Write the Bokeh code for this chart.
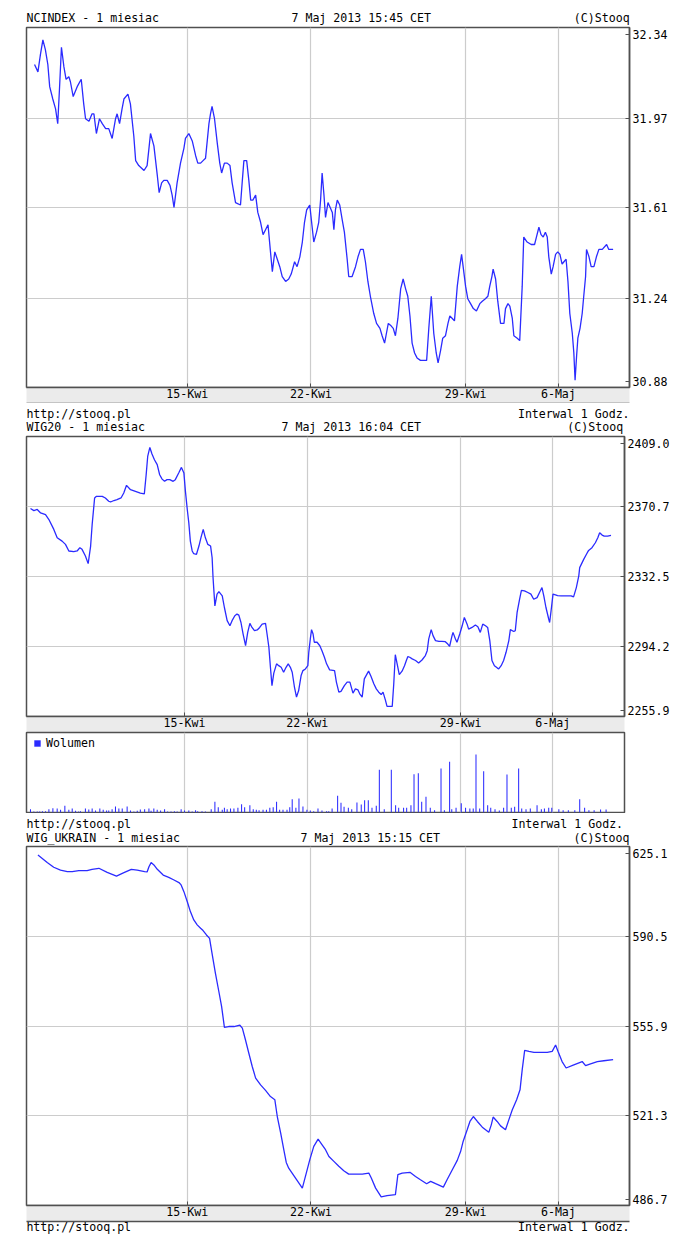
from bokeh.plotting import figure
from bokeh.layouts import column
from bokeh.models import (Range1d, LinearAxis, FixedTicker, Grid, Legend, LegendItem)
from bokeh.embed import file_html
from bokeh.resources import INLINE

# ---------------- data ----------------
# x = hourly bar number within the one-month window
date_ticks = [52, 92, 142, 172]
date_labels = ["15-Kwi", "22-Kwi", "29-Kwi", "6-Maj"]

nc_ticks = [30.88, 31.24, 31.61, 31.97, 32.34]
nc_tick_labels = ["30.88", "31.24", "31.61", "31.97", "32.34"]
wig_ticks = [2255.9, 2294.2, 2332.5, 2370.7, 2409.0]
wig_tick_labels = ["2255.9", "2294.2", "2332.5", "2370.7", "2409.0"]
ukr_ticks = [486.7, 521.3, 555.9, 590.5, 625.1]
ukr_tick_labels = ["486.7", "521.3", "555.9", "590.5", "625.1"]

nc_x = [2.6, 3.7, 4.5, 5.3, 6.1, 6.9, 7.5, 8.5, 9.4, 10.1,
        10.7, 11.3, 12.1, 12.8, 13.7, 14.2, 15.1, 16.4, 17.7, 18.5,
        19.1, 20.2, 21.2, 21.8, 22.6, 23.6, 24.5, 25.6, 26.6, 27.7,
        28.8, 29.3, 30.1, 30.9, 31.5, 32.8, 33.6, 34.7, 35.3, 36.3,
        38.0, 39.0, 39.6, 40.1, 41.2, 42.3, 42.9, 43.7, 44.4, 45.5,
        46.4, 47.1, 47.7, 48.7, 49.8, 50.9, 51.4, 52.5, 53.6, 54.7,
        55.4, 56.3, 57.1, 57.9, 59.0, 59.5, 60.0, 60.8, 61.7, 62.5,
        63.1, 64.0, 64.9, 65.8, 66.5, 67.6, 69.2, 69.8, 70.3, 71.2,
        71.9, 72.5, 73.2, 74.1, 74.8, 75.7, 76.5, 77.3, 78.1, 78.9,
        79.5, 80.3, 81.1, 81.9, 82.7, 83.8, 84.8, 85.6, 86.7, 87.5,
        88.4, 89.2, 89.9, 90.6, 91.6, 92.9, 93.8, 94.5, 95.1, 95.6,
        96.2, 96.7, 97.5, 98.9, 99.4, 99.9, 100.5, 101.3, 102.1, 102.8,
        103.7, 104.2, 105.3, 106.4, 107.2, 108.0, 108.9, 109.6, 110.4, 111.2,
        112.3, 113.2, 114.3, 115.0, 115.8, 116.4, 117.0, 117.9, 118.6, 119.3,
        120.1, 121.0, 121.8, 122.6, 123.3, 124.0, 124.7, 125.5, 126.3, 127.4,
        129.4, 130.1, 130.9, 131.7, 132.5, 133.1, 133.9, 134.6, 135.5, 136.3,
        136.9, 137.7, 138.4, 139.3, 140.1, 140.7, 141.2, 142.0, 142.7, 143.6,
        144.5, 145.5, 146.6, 147.4, 148.4, 149.2, 149.8, 150.5, 150.9, 151.7,
        152.4, 153.3, 154.4, 154.9, 155.7, 156.3, 157.1, 157.6, 158.7, 159.5,
        160.3, 160.8, 161.9, 163.2, 164.3, 164.9, 165.7, 166.4, 167.1, 167.8,
        168.4, 168.9, 169.7, 170.3, 171.1, 171.8, 172.5, 173.2, 173.8, 174.5,
        175.1, 175.7, 176.5, 177.0, 177.4, 177.9, 178.3, 179.0, 179.7, 180.2,
        180.8, 181.1, 181.9, 182.6, 183.5, 184.3, 185.1, 186.2, 187.6, 188.3,
        189.1, 189.7]
nc_v = [32.19, 32.16, 32.23, 32.29, 32.25, 32.19, 32.10, 32.05, 32.01, 31.95,
        32.10, 32.26, 32.18, 32.13, 32.14, 32.12, 32.06, 32.10, 32.13, 32.03,
        31.97, 31.96, 31.99, 31.99, 31.91, 31.97, 31.95, 31.93, 31.93, 31.89,
        31.97, 31.99, 31.95, 32.01, 32.05, 32.07, 32.03, 31.90, 31.80, 31.78,
        31.76, 31.78, 31.85, 31.91, 31.86, 31.74, 31.67, 31.71, 31.72, 31.72,
        31.70, 31.66, 31.61, 31.71, 31.79, 31.85, 31.89, 31.91, 31.88, 31.82,
        31.79, 31.79, 31.80, 31.81, 31.95, 31.99, 32.02, 31.97, 31.87, 31.79,
        31.75, 31.79, 31.79, 31.78, 31.71, 31.63, 31.62, 31.72, 31.80, 31.80,
        31.72, 31.64, 31.64, 31.66, 31.59, 31.55, 31.50, 31.52, 31.54, 31.43,
        31.35, 31.43, 31.40, 31.37, 31.33, 31.31, 31.32, 31.34, 31.39, 31.37,
        31.41, 31.47, 31.55, 31.60, 31.62, 31.47, 31.51, 31.55, 31.64, 31.75,
        31.66, 31.57, 31.63, 31.59, 31.52, 31.60, 31.64, 31.62, 31.56, 31.51,
        31.40, 31.33, 31.33, 31.37, 31.41, 31.44, 31.44, 31.39, 31.31, 31.25,
        31.18, 31.14, 31.12, 31.09, 31.06, 31.10, 31.14, 31.13, 31.12, 31.09,
        31.16, 31.28, 31.32, 31.28, 31.25, 31.17, 31.06, 31.02, 31.00, 30.99,
        30.99, 31.12, 31.25, 31.10, 31.02, 30.98, 31.03, 31.08, 31.09, 31.14,
        31.17, 31.16, 31.15, 31.29, 31.37, 31.42, 31.37, 31.29, 31.24, 31.22,
        31.20, 31.19, 31.22, 31.23, 31.24, 31.25, 31.29, 31.33, 31.36, 31.32,
        31.23, 31.14, 31.14, 31.20, 31.22, 31.21, 31.16, 31.09, 31.08, 31.07,
        31.29, 31.49, 31.47, 31.46, 31.46, 31.49, 31.53, 31.50, 31.49, 31.51,
        31.49, 31.41, 31.34, 31.37, 31.42, 31.43, 31.42, 31.38, 31.39, 31.40,
        31.31, 31.18, 31.10, 31.02, 30.91, 31.01, 31.08, 31.12, 31.18, 31.25,
        31.33, 31.44, 31.41, 31.37, 31.37, 31.41, 31.44, 31.44, 31.46, 31.44,
        31.44, 31.44]

wig_x = [1.8, 2.9, 4.0, 5.1, 6.7, 7.8, 9.4, 10.5, 12.1, 13.2,
         14.3, 15.9, 17.0, 17.9, 18.6, 19.7, 20.6, 21.4, 21.9, 22.7,
         23.3, 25.2, 26.2, 27.3, 27.9, 29.0, 30.0, 31.3, 32.2, 33.1,
         34.4, 36.0, 37.6, 38.9, 39.5, 40.0, 40.7, 41.4, 42.2, 43.1,
         43.9, 44.7, 45.5, 46.3, 47.2, 48.3, 49.0, 50.1, 51.0, 51.8,
         52.3, 52.9, 53.4, 53.9, 54.5, 55.0, 55.9, 56.7, 57.4, 58.1,
         58.8, 59.6, 60.5, 61.0, 61.3, 61.9, 62.6, 63.2, 64.3, 65.0,
         65.9, 66.8, 67.5, 68.4, 69.1, 69.7, 70.4, 71.1, 71.9, 72.6,
         73.3, 74.0, 74.8, 75.7, 76.5, 77.3, 78.4, 78.9, 79.5, 80.0,
         80.5, 81.1, 82.0, 82.7, 83.5, 84.3, 85.1, 85.8, 86.5, 87.1,
         87.8, 88.5, 89.2, 90.0, 90.6, 91.4, 92.2, 92.5, 93.0, 93.4,
         93.9, 94.3, 95.2, 96.1, 96.8, 97.6, 98.3, 99.3, 100.9, 101.5,
         102.3, 103.0, 104.1, 105.0, 105.9, 106.9, 107.7, 108.5, 109.1, 109.9,
         110.6, 111.5, 112.0, 112.8, 113.7, 114.5, 115.3, 116.1, 116.7, 117.5,
         118.0, 119.1, 119.7, 120.2, 120.7, 121.3, 122.0, 122.9, 123.7, 124.3,
         124.8, 125.4, 126.2, 127.3, 128.3, 129.4, 130.5, 131.1, 131.6, 132.4,
         133.0, 133.8, 134.9, 135.9, 137.0, 137.8, 138.4, 139.2, 139.5, 140.3,
         140.8, 141.7, 142.5, 143.2, 144.1, 144.6, 145.7, 146.8, 147.6, 148.4,
         149.2, 150.1, 150.8, 151.5, 152.2, 153.0, 153.9, 154.4, 155.2, 156.0,
         156.8, 157.7, 158.2, 159.3, 159.8, 160.4, 161.2, 161.8, 162.8, 163.9,
         164.9, 165.8, 166.9, 167.7, 168.5, 169.1, 169.8, 170.7, 171.0, 171.6,
         172.1, 172.9, 173.6, 174.7, 176.1, 178.0, 178.8, 179.7, 180.5, 180.8,
         182.1, 183.0, 183.7, 184.8, 185.9, 186.7, 187.3, 188.1, 188.8, 189.9,
         191.0]
wig_v = [2369.6, 2368.5, 2369.1, 2367.2, 2366.3, 2363.6, 2358.2, 2353.6, 2351.8, 2350.0,
         2346.4, 2346.0, 2346.4, 2348.2, 2347.3, 2343.7, 2339.5, 2349.1, 2360.9, 2375.4,
         2376.3, 2376.3, 2375.4, 2373.6, 2373.2, 2374.0, 2374.5, 2375.4, 2378.1, 2382.3,
         2379.9, 2379.0, 2378.1, 2377.6, 2388.1, 2398.1, 2403.0, 2399.4, 2396.3, 2393.6,
         2388.1, 2385.7, 2384.5, 2385.4, 2385.4, 2384.5, 2385.4, 2389.0, 2392.1, 2389.0,
         2379.0, 2369.1, 2361.8, 2351.8, 2346.4, 2344.9, 2344.6, 2349.1, 2354.0, 2358.2,
         2353.6, 2350.0, 2349.1, 2342.7, 2331.8, 2316.4, 2322.8, 2324.2, 2321.9, 2315.5,
         2308.3, 2305.5, 2308.3, 2311.0, 2311.9, 2311.3, 2307.3, 2301.0, 2294.6, 2301.9,
         2306.8, 2304.6, 2302.8, 2303.2, 2304.6, 2306.4, 2306.8, 2301.0, 2293.7, 2282.8,
         2272.8, 2279.6, 2284.7, 2283.7, 2282.8, 2280.1, 2282.8, 2284.7, 2282.8, 2280.1,
         2272.3, 2266.5, 2270.1, 2278.3, 2281.0, 2281.9, 2283.7, 2291.0, 2298.3, 2303.4,
         2301.0, 2296.5, 2296.5, 2294.6, 2291.9, 2288.3, 2284.7, 2281.4, 2281.0, 2274.7,
         2269.2, 2269.6, 2272.8, 2274.7, 2274.7, 2268.7, 2271.0, 2270.5, 2268.3, 2266.5,
         2276.5, 2279.2, 2280.7, 2277.8, 2273.8, 2271.0, 2269.2, 2267.9, 2269.2, 2264.7,
         2261.4, 2261.4, 2261.4, 2273.8, 2289.7, 2284.7, 2278.8, 2280.7, 2283.7, 2286.5,
         2288.7, 2288.3, 2287.4, 2286.5, 2285.2, 2286.8, 2289.2, 2291.9, 2298.3, 2303.4,
         2300.1, 2297.4, 2297.0, 2297.0, 2296.8, 2295.5, 2294.3, 2300.1, 2301.9, 2298.3,
         2296.5, 2301.0, 2305.5, 2310.1, 2306.4, 2303.7, 2304.6, 2305.9, 2305.0, 2301.9,
         2306.4, 2305.5, 2304.6, 2297.4, 2286.5, 2283.7, 2282.5, 2281.9, 2283.7, 2286.5,
         2291.0, 2297.4, 2303.4, 2302.4, 2302.8, 2312.8, 2320.0, 2324.9, 2324.6, 2323.7,
         2322.8, 2320.0, 2320.9, 2323.7, 2326.4, 2321.9, 2315.5, 2309.2, 2307.3, 2315.5,
         2322.8, 2322.4, 2322.0, 2321.9, 2321.9, 2321.9, 2321.3, 2326.4, 2332.8, 2337.3,
         2341.8, 2344.6, 2346.7, 2348.2, 2350.9, 2353.6, 2356.4, 2355.1, 2354.5, 2354.5,
         2354.9]

vol_x = [1.8, 2.9, 4.0, 4.8, 5.7, 6.7, 7.8, 9.1, 10.5, 11.6,
         13.0, 14.3, 15.4, 16.5, 17.5, 18.1, 19.7, 20.8, 21.9, 23.0,
         24.4, 25.5, 26.6, 27.3, 28.4, 29.5, 30.6, 31.7, 33.3, 34.4,
         35.5, 36.6, 37.6, 39.0, 40.4, 41.1, 42.0, 43.1, 44.2, 45.5,
         46.5, 47.6, 48.7, 49.6, 50.9, 52.0, 53.4, 54.5, 55.6, 56.3,
         57.7, 58.8, 60.7, 61.9, 63.0, 64.3, 65.0, 65.9, 67.0, 68.1,
         69.4, 70.6, 71.6, 73.3, 74.4, 75.4, 76.3, 77.6, 78.7, 79.8,
         80.9, 82.0, 83.0, 84.1, 85.4, 86.3, 87.1, 88.3, 89.3, 90.6,
         91.9, 93.0, 94.1, 95.5, 96.8, 98.3, 99.0,
         100.1, 101.9, 103.0, 104.0, 105.4, 106.5, 108.2, 109.6, 110.7, 111.9,
         113.1, 114.5, 115.5, 117.1, 119.4, 120.8, 121.8, 123.4, 124.4, 125.8,
         126.8, 128.2, 129.3, 130.7, 132.1, 133.5, 135.6, 136.7, 138.4, 139.1,
         140.5, 142.2, 143.6, 145.0, 146.1, 147.0, 148.2, 149.5, 150.8, 151.8,
         153.2, 154.6, 156.0, 157.1, 158.5, 159.6, 160.9, 161.9, 163.3, 164.7,
         166.9, 168.3, 169.3, 170.7, 171.7, 174.0, 175.4, 177.1, 179.2, 180.8,
         182.4, 183.8, 185.5, 187.6, 189.4]
vol_v = [33, 10, 10, 10, 13, 13, 33, 43, 40, 27,
         67, 27, 40, 17, 10, 13, 40, 30, 40, 20,
         40, 27, 20, 20, 33, 60, 40, 40, 60, 20,
         10, 17, 30, 33, 40, 17, 40, 27, 20, 33,
         10, 10, 13, 10, 33, 20, 20, 10, 23, 13,
         13, 10, 33, 107, 53, 27, 47, 33, 40, 40,
         47, 83, 53, 73, 33, 27, 23, 27, 27, 47,
         53, 107, 27, 27, 27, 53, 133, 47, 140, 60,
         27, 20, 13, 40, 20, 13, 13,
         40, 167, 97, 57, 47, 33, 100, 80, 123, 123,
         47, 67, 427, 33, 427, 73, 47, 47, 47, 73,
         383, 393, 107, 157, 47, 23, 440, 23, 507, 33,
         47, 93, 47, 40, 40, 580, 40, 413, 73, 47,
         33, 20, 47, 380, 47, 57, 440, 40, 33, 40,
         73, 33, 40, 47, 47, 33, 23, 23, 23, 133,
         47, 23, 23, 30, 30]

ukr_x = [3.7, 5.1, 6.7, 8.8, 11.0, 13.2, 14.8, 16.9, 19.6, 21.2,
         23.4, 26.1, 29.1, 31.5, 33.9, 35.8, 38.2, 39.0, 39.6, 40.3,
         41.2, 42.3, 44.2, 46.0, 47.7, 49.3, 50.0, 50.9, 52.0, 53.0,
         54.1, 55.2, 56.3, 57.1, 58.2, 59.2, 60.0, 61.1, 62.2, 63.1,
         64.0, 65.4, 67.1, 69.0, 69.8, 70.8, 71.9, 73.0, 74.1, 75.7,
         77.3, 78.9, 80.3, 81.1, 82.2, 83.2, 84.0, 84.8, 85.9, 87.5,
         89.2, 90.2, 91.6, 92.9, 94.3, 95.6, 96.7, 97.8, 99.4, 101.0,
         102.6, 104.2, 106.4, 108.6, 110.7, 111.5, 112.9, 114.7, 116.6, 119.3,
         120.1, 121.5, 124.0, 125.8, 127.4, 129.4, 130.7, 132.3, 134.8, 136.0,
         137.7, 139.3, 140.4, 141.2, 142.5, 143.4, 144.5, 145.8, 147.4, 149.5,
         150.3, 150.9, 152.2, 153.3, 154.9, 156.0, 157.1, 158.5, 159.6, 160.3,
         161.1, 162.5, 164.1, 166.2, 168.4, 170.0, 171.1, 171.9, 173.2, 174.5,
         177.0, 179.7, 180.8, 182.4, 184.6, 186.7, 189.7]
ukr_v = [621.8, 620.5, 618.9, 617.1, 616.0, 615.4, 615.4, 615.8, 615.8, 616.3,
         616.7, 615.1, 613.7, 615.0, 616.3, 616.0, 615.4, 615.3, 617.3, 618.9,
         618.0, 616.3, 614.1, 613.2, 612.2, 611.2, 610.3, 607.7, 603.8, 600.0,
         596.8, 594.9, 593.6, 592.7, 591.0, 589.7, 583.9, 576.2, 569.2, 563.4,
         555.4, 555.7, 555.7, 556.2, 555.1, 550.6, 545.4, 540.3, 535.8, 533.2,
         531.1, 528.7, 527.5, 521.0, 514.6, 508.2, 503.3, 501.1, 499.2, 496.4,
         493.4, 497.9, 504.3, 509.5, 512.3, 510.1, 508.2, 505.6, 503.7, 501.8,
         500.1, 498.8, 498.8, 498.8, 499.2, 497.3, 493.4, 490.0, 490.5, 490.9,
         498.6, 499.2, 499.5, 497.9, 496.6, 495.1, 496.0, 495.1, 493.8, 496.6,
         500.5, 504.1, 507.6, 511.4, 515.9, 519.1, 521.0, 519.1, 516.9, 514.9,
         517.8, 520.8, 519.1, 517.4, 515.9, 519.8, 523.6, 527.5, 531.3, 539.0,
         546.5, 546.1, 545.7, 545.7, 545.7, 546.1, 548.6, 546.1, 542.2, 539.7,
         540.9, 542.2, 540.6, 541.3, 542.2, 542.5, 542.9]

# ---------------- style ----------------
FONT = "DejaVu Sans Mono"
FPX = 11.6
FS = "%.1fpx" % FPX
CW = 0.6021 * FPX          # monospace advance width
INK = "#000000"
FRAME = "#505050"
GRID = "#cccccc"
BLUE = "#2b2bff"
BAND = "#ebebeb"
LEFT = 26
END_INSET = 6.5            # end tick labels are kept inside the frame (px)


def pairs(xs, ys):
    n = min(len(xs), len(ys))
    return list(xs[:n]), list(ys[:n])


def base_fig(top, bottom, frame_w, frame_h, xr, yr, right=0):
    p = figure(frame_width=frame_w, frame_height=frame_h, x_range=xr, y_range=yr,
               x_axis_type=None, y_axis_type=None,
               toolbar_location=None, output_backend="svg")
    p.min_border_left = LEFT
    p.min_border_right = right
    p.min_border_top = top
    p.min_border_bottom = bottom
    p.outline_line_color = FRAME
    p.outline_line_width = 1.5
    p.background_fill_color = "white"
    p.border_fill_color = "white"
    p.extra_x_ranges = {"px": Range1d(0, frame_w)}
    p.add_layout(Grid(dimension=0, ticker=FixedTicker(ticks=date_ticks),
                      grid_line_color=GRID, grid_line_width=1.2))
    return p


def text_row(p, side, items, standoff):
    """items: list of (text, anchor_px, 'left'|'right') relative to frame left."""
    ticks, over = [], {}
    for s, px, how in items:
        half = len(s) * CW / 2.0
        c = round((px + half if how == "left" else px - half) * 4) / 4.0
        ticks.append(c)
        over[c] = s
    ax = LinearAxis(x_range_name="px", ticker=FixedTicker(ticks=ticks),
                    major_label_overrides=over, axis_line_color=None,
                    major_tick_line_color=None, minor_tick_line_color=None,
                    major_tick_in=0, major_tick_out=0, minor_tick_in=0, minor_tick_out=0,
                    major_label_standoff=standoff, major_label_text_font=FONT,
                    major_label_text_font_size=FS, major_label_text_color=INK)
    p.add_layout(ax, side)


def price_axes(p, yticks, ylabels, frame_h, band_standoff):
    lo, hi = yticks[0], yticks[-1]
    p.add_layout(Grid(dimension=1, ticker=FixedTicker(ticks=yticks),
                      grid_line_color=GRID, grid_line_width=1.2))
    inset = (hi - lo) * END_INSET / frame_h
    pos = [lo + inset] + list(yticks[1:-1]) + [hi - inset]
    ry = LinearAxis(ticker=FixedTicker(ticks=pos),
                    major_label_overrides=dict(zip(pos, ylabels)),
                    major_tick_in=4, major_tick_out=0, minor_tick_in=0, minor_tick_out=0,
                    major_label_standoff=3, axis_line_color=FRAME, axis_line_width=1.5,
                    major_tick_line_color=FRAME, major_label_text_font=FONT,
                    major_label_text_font_size=FS, major_label_text_color=INK)
    p.add_layout(ry, "right")
    xa = LinearAxis(ticker=FixedTicker(ticks=date_ticks),
                    major_label_overrides=dict(zip(date_ticks, date_labels)),
                    major_tick_in=4, major_tick_out=0, minor_tick_in=0, minor_tick_out=0,
                    major_label_standoff=band_standoff, axis_line_color=FRAME,
                    axis_line_width=1.5, major_tick_line_color=FRAME,
                    major_label_text_font=FONT, major_label_text_font_size=FS,
                    major_label_text_color=INK)
    try:
        xa.background_fill_color = BAND
    except AttributeError:
        pass
    p.add_layout(xa, "below")
    edge = LinearAxis(ticker=FixedTicker(ticks=[]), major_tick_in=0, major_tick_out=0,
                      minor_tick_in=0, minor_tick_out=0, major_label_standoff=0,
                      axis_line_color=FRAME, axis_line_width=1.5)
    p.add_layout(edge, "below")


# ---------------- NCINDEX ----------------
pA = base_fig(27, 16, 603, 360, Range1d(0, 195), Range1d(nc_ticks[0], nc_ticks[-1]))
text_row(pA, "above", [("NCINDEX - 1 miesiac", -0.2, "left"),
                       ("7 Maj 2013 15:45 CET", 265, "left"),
                       ("(C)Stooq", 603.3, "right")], 3)
price_axes(pA, nc_ticks, nc_tick_labels, 360, -1)
x, y = pairs(nc_x, nc_v)
pA.line(x, y, line_color=BLUE, line_width=1.3)

# ---------------- WIG20 (footer of NCINDEX sits above its title) ----------------
pB = base_fig(33, 16, 598, 280, Range1d(0.5, 195.4), Range1d(wig_ticks[0], wig_ticks[-1]))
text_row(pB, "above", [("WIG20 - 1 miesiac", -0.2, "left"),
                       ("7 Maj 2013 16:04 CET", 255, "left"),
                       ("(C)Stooq", 596.7, "right")], 3)
text_row(pB, "above", [("http://stooq.pl", -0.2, "left"),
                       ("Interwal 1 Godz.", 603.2, "right")], -4)
price_axes(pB, wig_ticks, wig_tick_labels, 280, -1)
x, y = pairs(wig_x, wig_v)
pB.line(x, y, line_color=BLUE, line_width=1.3)

# ---------------- WIG20 volume ----------------
pC = base_fig(0, 1, 598, 80, Range1d(0.5, 195.4), Range1d(0, 800), right=40)
x, y = pairs(vol_x, vol_v)
vr = pC.vbar(x=x, top=y, bottom=0, width=0.34, fill_color=BLUE, line_color=None)
leg = Legend(items=[LegendItem(label="Wolumen", renderers=[vr])], location=(7, 62),
             orientation="vertical", padding=0, margin=0, spacing=0,
             glyph_width=8, glyph_height=8, label_standoff=5, label_height=14,
             label_text_font=FONT, label_text_font_size=FS, label_text_color=INK,
             background_fill_alpha=0, border_line_alpha=0)
pC.add_layout(leg)

# ---------------- WIG_UKRAIN (footer of volume sits above its title) ----------------
pD = base_fig(33, 31, 603, 359, Range1d(0, 195), Range1d(ukr_ticks[0], ukr_ticks[-1]))
text_row(pD, "above", [("WIG_UKRAIN - 1 miesiac", -0.2, "left"),
                       ("7 Maj 2013 15:15 CET", 274, "left"),
                       ("(C)Stooq", 603, "right")], 2)
text_row(pD, "above", [("http://stooq.pl", -0.2, "left"),
                       ("Interwal 1 Godz.", 596.6, "right")], -3)
price_axes(pD, ukr_ticks, ukr_tick_labels, 359, -1)
x, y = pairs(ukr_x, ukr_v)
pD.line(x, y, line_color=BLUE, line_width=1.3)
text_row(pD, "below", [("http://stooq.pl", -0.2, "left"),
                       ("Interwal 1 Godz.", 603, "right")], -2)

layout = column(pA, pB, pC, pD, spacing=0)
open("out.html", "w").write(file_html(layout, INLINE))
